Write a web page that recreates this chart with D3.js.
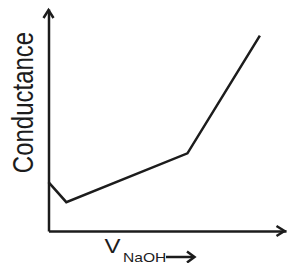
<!DOCTYPE html>
<html>
<head>
<meta charset="utf-8">
<script src="https://cdn.jsdelivr.net/npm/d3@7"></script>
<style>
  body { margin: 0; background: #fff; }
  svg { display: block; }
</style>
</head>
<body>
<svg width="287" height="263"></svg>
<script>
  const volume = [0, 0.75, 5.85, 8.9];
  const conductance = [2.2, 1.3, 3.5, 8.8];
  const xLabel = "V";
  const xSub = "NaOH";
  const yLabel = "Conductance";

  const width = 287;
  const height = 263;
  const margin = { top: 9, right: 1, bottom: 32, left: 48.5 };
  const ink = "#1c1c1c";

  const x = d3.scaleLinear()
    .domain([0, 10])
    .range([margin.left, width - margin.right]);

  const y = d3.scaleLinear()
    .domain([0, 10])
    .range([height - margin.bottom, margin.top]);

  const svg = d3.select("svg");

  // axes: bare lines, no ticks
  const xAxis = (g) =>
    g.attr("transform", `translate(0,${y(0)})`)
      .call(d3.axisBottom(x).ticks(0).tickSizeOuter(0));
  const yAxis = (g) =>
    g.attr("transform", `translate(${x(0)},0)`)
      .call(d3.axisLeft(y).ticks(0).tickSizeOuter(0));

  svg.append("g").call(xAxis);
  svg.append("g").call(yAxis);
  svg.selectAll(".domain")
    .attr("stroke", ink)
    .attr("stroke-width", 2.5);

  // arrow heads
  const head = svg.append("g")
    .attr("fill", "none")
    .attr("stroke", ink)
    .attr("stroke-width", 2.5);
  const xe = x(10) - 1.5, y0 = y(0);
  head.append("path").attr("d", `M${xe - 8},${y0 - 5}L${xe},${y0}L${xe - 8},${y0 + 5}`);
  const ye = y(10) + 1, x0 = x(0);
  head.append("path").attr("d", `M${x0 - 5},${ye + 8}L${x0},${ye}L${x0 + 5},${ye + 8}`);

  // curve
  const pts = volume.map((v, i) => [v, conductance[i]]);
  svg.append("path")
    .datum(pts)
    .attr("fill", "none")
    .attr("stroke", ink)
    .attr("stroke-width", 2.5)
    .attr("stroke-linejoin", "miter")
    .attr("d", d3.line().x((d) => x(d[0])).y((d) => y(d[1])));

  // labels (source picture is stretched horizontally)
  svg.append("text")
    .attr("transform", "translate(33,102.5) scale(1.2,1) rotate(-90)")
    .attr("text-anchor", "middle")
    .attr("font-family", "Liberation Sans, Arial, sans-serif")
    .attr("font-size", 24)
    .attr("fill", ink)
    .text(yLabel);

  const xl = svg.append("g")
    .attr("font-family", "Liberation Sans, Arial, sans-serif")
    .attr("fill", ink);
  xl.append("text")
    .attr("transform", "translate(104.5,253) scale(1.2,1)")
    .attr("font-size", 20)
    .text(xLabel);
  xl.append("text")
    .attr("transform", "translate(123,261.5) scale(1.2,1)")
    .attr("font-size", 13)
    .text(xSub);

  const ax = svg.append("g")
    .attr("fill", "none")
    .attr("stroke", ink)
    .attr("stroke-width", 2.5);
  ax.append("line").attr("x1", 166).attr("x2", 194).attr("y1", 257).attr("y2", 257);
  ax.append("path").attr("d", "M187,251.5L194.5,257L187,262.5");
</script>
</body>
</html>
